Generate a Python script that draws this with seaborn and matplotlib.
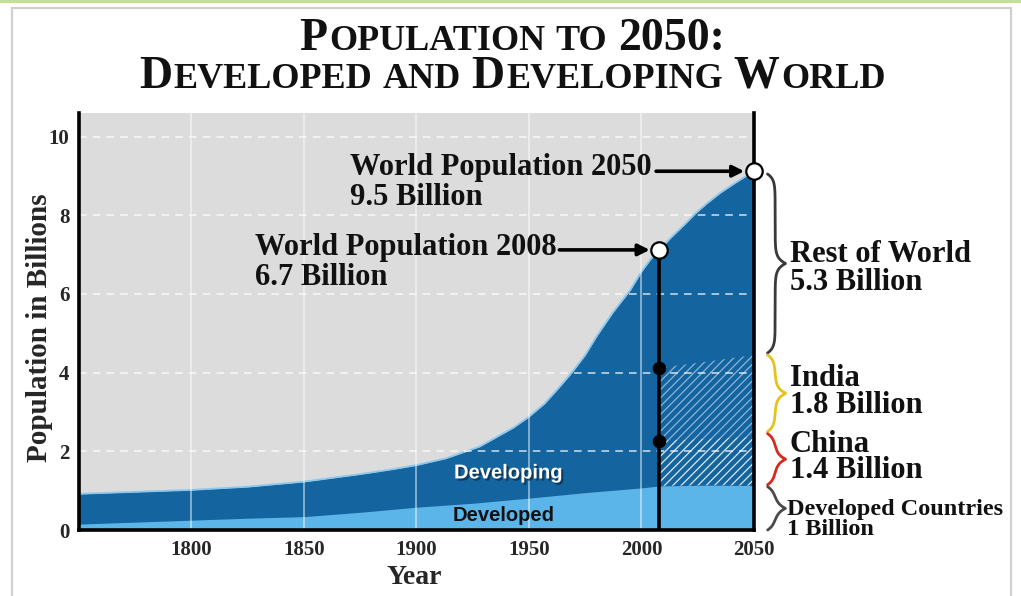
import numpy as np
import pandas as pd
import matplotlib
matplotlib.use("Agg")
import matplotlib.pyplot as plt
from matplotlib import patheffects as pe
from matplotlib.patches import Rectangle
import seaborn as sns

# ---------------- data ----------------
years_total = [1750, 1775, 1800, 1825, 1850, 1875, 1890, 1900, 1913, 1928, 1943,
               1950, 1957, 1963, 1969, 1975, 1980, 1987, 1995, 2000, 2004, 2008,
               2013, 2019, 2024, 2029, 2035, 2041, 2046, 2050]
total_pop = [0.92, 0.97, 1.02, 1.10, 1.23, 1.42, 1.55, 1.65, 1.82, 2.12, 2.60,
             2.88, 3.22, 3.60, 4.00, 4.45, 4.92, 5.51, 6.10, 6.57, 6.88, 7.12,
             7.43, 7.76, 8.05, 8.30, 8.57, 8.80, 8.98, 9.12]

years_dev = [1750, 1775, 1800, 1825, 1850, 1875, 1900, 1925, 1950, 1975, 2000,
             2008, 2030, 2050]
developed_pop = [0.15, 0.20, 0.25, 0.30, 0.34, 0.45, 0.58, 0.68, 0.81, 0.95,
                 1.07, 1.12, 1.14, 1.13]

years_proj = [2008, 2029, 2050]
china_top = [2.27, 2.32, 2.37]
india_top = [4.12, 4.28, 4.45]

x_ticks = [1800, 1850, 1900, 1950, 2000, 2050]
y_ticks = [0, 2, 4, 6, 8, 10]

# right-hand groups: (label, top, bottom, colour)
groups = [
    ("Rest of World\n5.3 Billion", 9.05, 4.50, "#3a3a3a"),
    ("India\n1.8 Billion", 4.45, 2.50, "#e6c21c"),
    ("China\n1.4 Billion", 2.45, 1.15, "#d62a1e"),
    ("Developed Countries\n1 Billion", 1.10, 0.00, "#4a4a4a"),
]

DARK = "#14649f"
LIGHT = "#5cb5e8"
BG = "#dcdcdc"

# ---------------- style ----------------
sns.set_style("white")
plt.rcParams["font.family"] = ["Liberation Serif", "DejaVu Serif"]
plt.rcParams["hatch.linewidth"] = 0.9

W, H = 1021, 596
fig = plt.figure(figsize=(W / 100, H / 100), dpi=100)
fig.patch.set_facecolor("white")
ax = fig.add_axes([79 / W, 66 / H, 675 / W, 417 / H])
ax.set_facecolor(BG)
ax.set_xlim(1750, 2050)
ax.set_ylim(0, 10.6)

# frame decoration
fig.patches.append(Rectangle((0, 1 - 3 / H), 1, 3 / H, transform=fig.transFigure,
                             facecolor="#c3df98", edgecolor="none"))
fig.patches.append(Rectangle((12 / W, -0.05), 999 / W, 1 - 8 / H + 0.05,
                             transform=fig.transFigure, fill=False,
                             edgecolor="#d0d0d0", lw=1.6))

# areas
ax.fill_between(years_total, 0, total_pop, color=DARK, lw=0, zorder=1)
df_tot = pd.DataFrame({"year": years_total, "pop": total_pop})
sns.lineplot(data=df_tot, x="year", y="pop", ax=ax, color="#8cc8ee", lw=1.3, zorder=1.5)
ax.fill_between(years_dev, 0, developed_pop, color=LIGHT, lw=0, zorder=2)

dev_at_proj = np.interp(years_proj, years_dev, developed_pop)
ax.fill_between(years_proj, dev_at_proj, china_top, facecolor="none",
                edgecolor=(1, 1, 1, 0.85), hatch="////", lw=0, zorder=2.2)
ax.fill_between(years_proj, china_top, india_top, facecolor="none",
                edgecolor=(0.85, 0.92, 1.0, 0.6), hatch="////", lw=0, zorder=2.2)

# grid
ax.set_axisbelow(False)
ax.set_xticks(x_ticks)
ax.set_yticks(y_ticks)
ax.xaxis.grid(True, color="white", alpha=0.6, lw=1.1, ls="-")
ax.yaxis.grid(True, color="white", alpha=0.8, lw=1.1, ls=(0, (5, 4)))
ax.tick_params(length=0, labelsize=15)
ax.tick_params(axis="x", pad=7)
ax.tick_params(axis="y", pad=7)
for lab in ax.get_xticklabels() + ax.get_yticklabels():
    lab.set_fontweight("bold")

for side in ["left", "bottom", "right"]:
    ax.spines[side].set_visible(True)
    ax.spines[side].set_color("black")
    ax.spines[side].set_linewidth(2.6)
    ax.spines[side].set_zorder(6)
ax.spines["top"].set_visible(False)

ax.set_xlabel("Year", fontsize=20, fontweight="bold")
ax.set_ylabel("Population in Billions", fontsize=21, fontweight="bold")
ax.xaxis.set_label_coords(0.497, -0.085)
ax.yaxis.set_label_coords(-0.058, 0.485)
ax.yaxis.label.set_verticalalignment("center")

# 2008 marker line and points
i2008 = years_total.index(2008)
t2008 = total_pop[i2008]
t2050 = total_pop[-1]
ax.vlines(2008, 0, t2008, color="black", lw=2.6, zorder=5)
sns.scatterplot(x=[years_proj[0], years_proj[0]], y=[china_top[0], india_top[0]],
                ax=ax, color="black", s=95, zorder=6, linewidth=0, legend=False)
sns.scatterplot(x=[2008, 2050], y=[t2008, t2050], ax=ax, color="white",
                edgecolor="black", linewidth=1.6, s=140, zorder=8, legend=False,
                clip_on=False)

# annotations with arrows (y = baseline of the last line)
txt_kw = dict(fontsize=22, fontweight="bold", va="baseline", color="#111111",
              linespacing=1.04)
ax.text(1870.4, 8.27, "World Population 2050\n9.5 Billion", **txt_kw)
ax.text(1828.1, 6.23, "World Population 2008\n6.7 Billion", **txt_kw)
arrow_kw = dict(arrowstyle="-|>", color="black", lw=2.6, shrinkA=0, shrinkB=7,
                mutation_scale=17)
ax.annotate("", xy=(2050, t2050), xytext=(2006.5, t2050), arrowprops=arrow_kw,
            annotation_clip=False, zorder=7)
ax.annotate("", xy=(2008, t2008), xytext=(1963.5, t2008), arrowprops=arrow_kw,
            zorder=7)

# area labels
ax.text(1940.8, 1.45, "Developing", fontsize=14.5, fontweight="bold",
        family=["Liberation Sans", "DejaVu Sans"], color="white", ha="center",
        va="center", zorder=7,
        path_effects=[pe.withSimplePatchShadow(offset=(1.5, -1.5), shadow_rgbFace="#0a2a45", alpha=0.7)])
ax.text(1938.6, 0.36, "Developed", fontsize=14.5, fontweight="bold",
        family=["Liberation Sans", "DejaVu Sans"], color="#111111", ha="center",
        va="center", zorder=7)

# braces and right labels
ytr = ax.get_yaxis_transform()


def brace(top, bot, color, x0=1.020, w=0.027, s=0.13):
    y = np.linspace(top, bot, 500)
    ym = (top + bot) / 2
    xm = x0 + w * 0.42
    x = (xm + (x0 + w - xm) * np.exp(-np.abs(y - ym) / s)
         - (xm - x0) * (np.exp(-np.abs(y - top) / s) + np.exp(-np.abs(y - bot) / s)))
    ax.plot(x, y, transform=ytr, color=color, lw=2.0, clip_on=False,
            solid_capstyle="round", zorder=8)


# (x, baseline of last line, fontsize, linespacing)
label_pos = [
    (1.053, 6.09, 22, 0.99),
    (1.053, 2.98, 22, 0.91),
    (1.053, 1.32, 22, 0.885),
    (1.049, -0.13, 17.5, 0.97),
]
for (lab, top, bot, col), (lx, y2, fs, ls) in zip(groups, label_pos):
    brace(top, bot, col)
    ax.text(lx, y2, lab, transform=ytr, fontsize=fs, fontweight="bold",
            va="baseline", ha="left", clip_on=False, color="#111111",
            linespacing=ls)

# title in small caps
renderer = fig.canvas.get_renderer()


def smallcaps(parts, baseline_px, center_px=513):
    items = []
    total = 0.0
    for p in parts:
        if isinstance(p, (int, float)):
            items.append((None, float(p)))
            total += p
        else:
            s, size = p
            t = fig.text(0, 0, s, fontsize=size, fontweight="bold", va="baseline",
                         ha="left", color="#111111")
            w = t.get_window_extent(renderer).width + 1.5
            items.append((t, w))
            total += w
    x = center_px - total / 2
    for t, w in items:
        if t is not None:
            t.set_position((x / W, 1 - baseline_px / H))
        x += w


S, s_ = 33, 26
gap = 9
smallcaps([("P", S), ("OPULATION", s_), gap, ("TO", s_), gap, ("2050:", S)], 50)
smallcaps([("D", S), ("EVELOPED", s_), gap, ("AND", s_), gap, ("D", S),
           ("EVELOPING", s_), gap, ("W", S), ("ORLD", s_)], 88)

fig.savefig("out.png", dpi=100)
